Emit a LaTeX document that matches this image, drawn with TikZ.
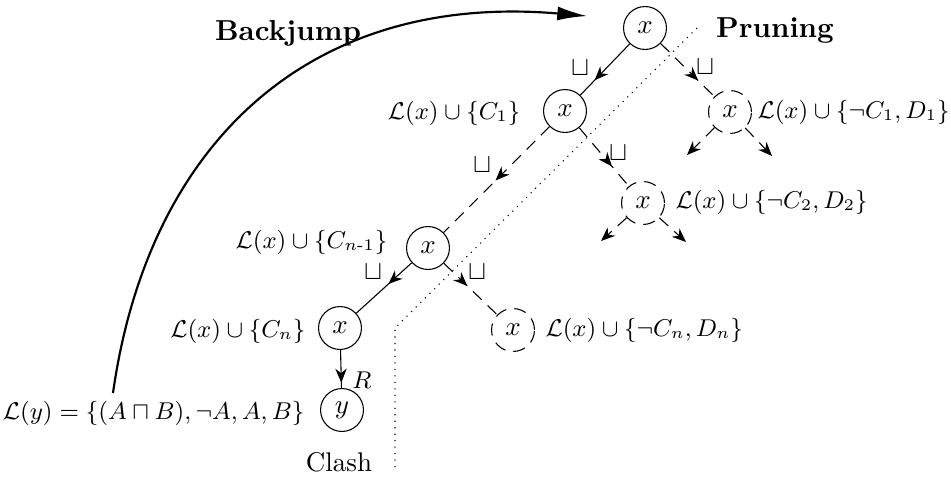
\documentclass[tikz,border=0pt]{standalone}
\usepackage{amsmath,amssymb}
\usetikzlibrary{arrows.meta,decorations.markings}
\begin{document}
\begin{tikzpicture}[x=0.37037pt,y=-0.37037pt,
  st/.style={circle,draw,minimum size=15.9pt,inner sep=0pt},
  pr/.style={st,dash pattern=on 4.5pt off 3pt},
  lab/.style={inner sep=0pt,font=\small},
  elab/.style={inner sep=0pt},
  dsh/.style={dash pattern=on 4.5pt off 3pt},
  midarr/.style={postaction={decorate},decoration={markings,
     mark=at position #1 with {\arrow{Stealth[length=5.2pt,width=4.2pt]}}}},
  leaf/.style={dsh,-{Stealth[length=5.2pt,width=4.2pt]}},
  title/.style={font=\fontsize{10.7pt}{13pt}\selectfont\bfseries,anchor=base,inner sep=0pt}]
\useasboundingbox (0,0) rectangle (951,478);
% nodes
\node[st] (r)  at (645,28)  {$x$};
\node[st] (a1) at (565,111) {$x$};
\node[pr] (b1) at (730,112) {$x$};
\node[pr] (b2) at (643,203) {$x$};
\node[st] (a2) at (428,248) {$x$};
\node[st] (a3) at (340,328) {$x$};
\node[pr] (b3) at (513,330) {$x$};
\node[st] (y)  at (342,410) {$y$};
% labels
\node[lab,anchor=east] (la1) at (521,113) {$\mathcal{L}(x)\cup\{C_1\}$};
\node[lab,anchor=west] (lb1) at (757,112) {$\mathcal{L}(x)\cup\{\neg C_1,D_1\}$};
\node[lab,anchor=west] (lb2) at (675,202) {$\mathcal{L}(x)\cup\{\neg C_2,D_2\}$};
\node[lab,anchor=east] (la2) at (388,242) {$\mathcal{L}(x)\cup\{C_{n\text{-}1}\}$};
\node[lab,anchor=east] (la3) at (306,331) {$\mathcal{L}(x)\cup\{C_n\}$};
\node[lab,anchor=west] (lb3) at (545,330) {$\mathcal{L}(x)\cup\{\neg C_n,D_n\}$};
\node[lab,anchor=east] (ly)  at (305,413) {$\mathcal{L}(y)=\{(A\sqcap B),\neg A,A,B\}$};
\node[anchor=base,inner sep=0pt] (clash) at (339,471) {Clash};
\node[title] (bj) at (288,40.5) {Backjump};
\node[title] (pn) at (775,37) {Pruning};
% edge labels
\node[elab] (s1) at (580,68)  {$\sqcup$};
\node[elab] (s2) at (705,67)  {$\sqcup$};
\node[elab] (s3) at (482,165) {$\sqcup$};
\node[elab] (s4) at (618,153) {$\sqcup$};
\node[elab] (s5) at (373,272) {$\sqcup$};
\node[elab] (s6) at (477,272) {$\sqcup$};
\node[lab] (sr) at (362,380) {$R$};
% edges
\draw[midarr=0.71] (r) -- (a1);
\draw[dsh,midarr=0.70] (r) -- (b1);
\draw[dsh,midarr=0.51] (a1) -- (a2);
\draw[dsh,midarr=0.66] (a1) -- (b2);
\draw[midarr=0.42] (a2) -- (a3);
\draw[dsh,midarr=0.44] (a2) -- (b3);
\draw[midarr=0.86] (a3) -- (y);
% leaves
\coordinate (b1l) at (687,155);
\coordinate (b1r) at (772,156);
\coordinate (b2l) at (601,241);
\coordinate (b2r) at (686,242);
\draw[leaf] (b1) -- (b1l);
\draw[leaf] (b1) -- (b1r);
\draw[leaf] (b2) -- (b2l);
\draw[leaf] (b2) -- (b2r);
% dotted boundary
\coordinate (d1) at (697,28);
\coordinate (d2) at (395,328);
\coordinate (d3) at (395,468);
\draw[dotted] (d1) -- (d2) -- (d3);
% backjump arc
\coordinate (j0) at (113,393);
\coordinate (j1) at (587,16);
\draw[line width=0.8pt,-{Latex[length=11pt,width=5.2pt]}] (j0) .. controls (148,145) and (308,-8) .. (j1);
\end{tikzpicture}
\end{document}
